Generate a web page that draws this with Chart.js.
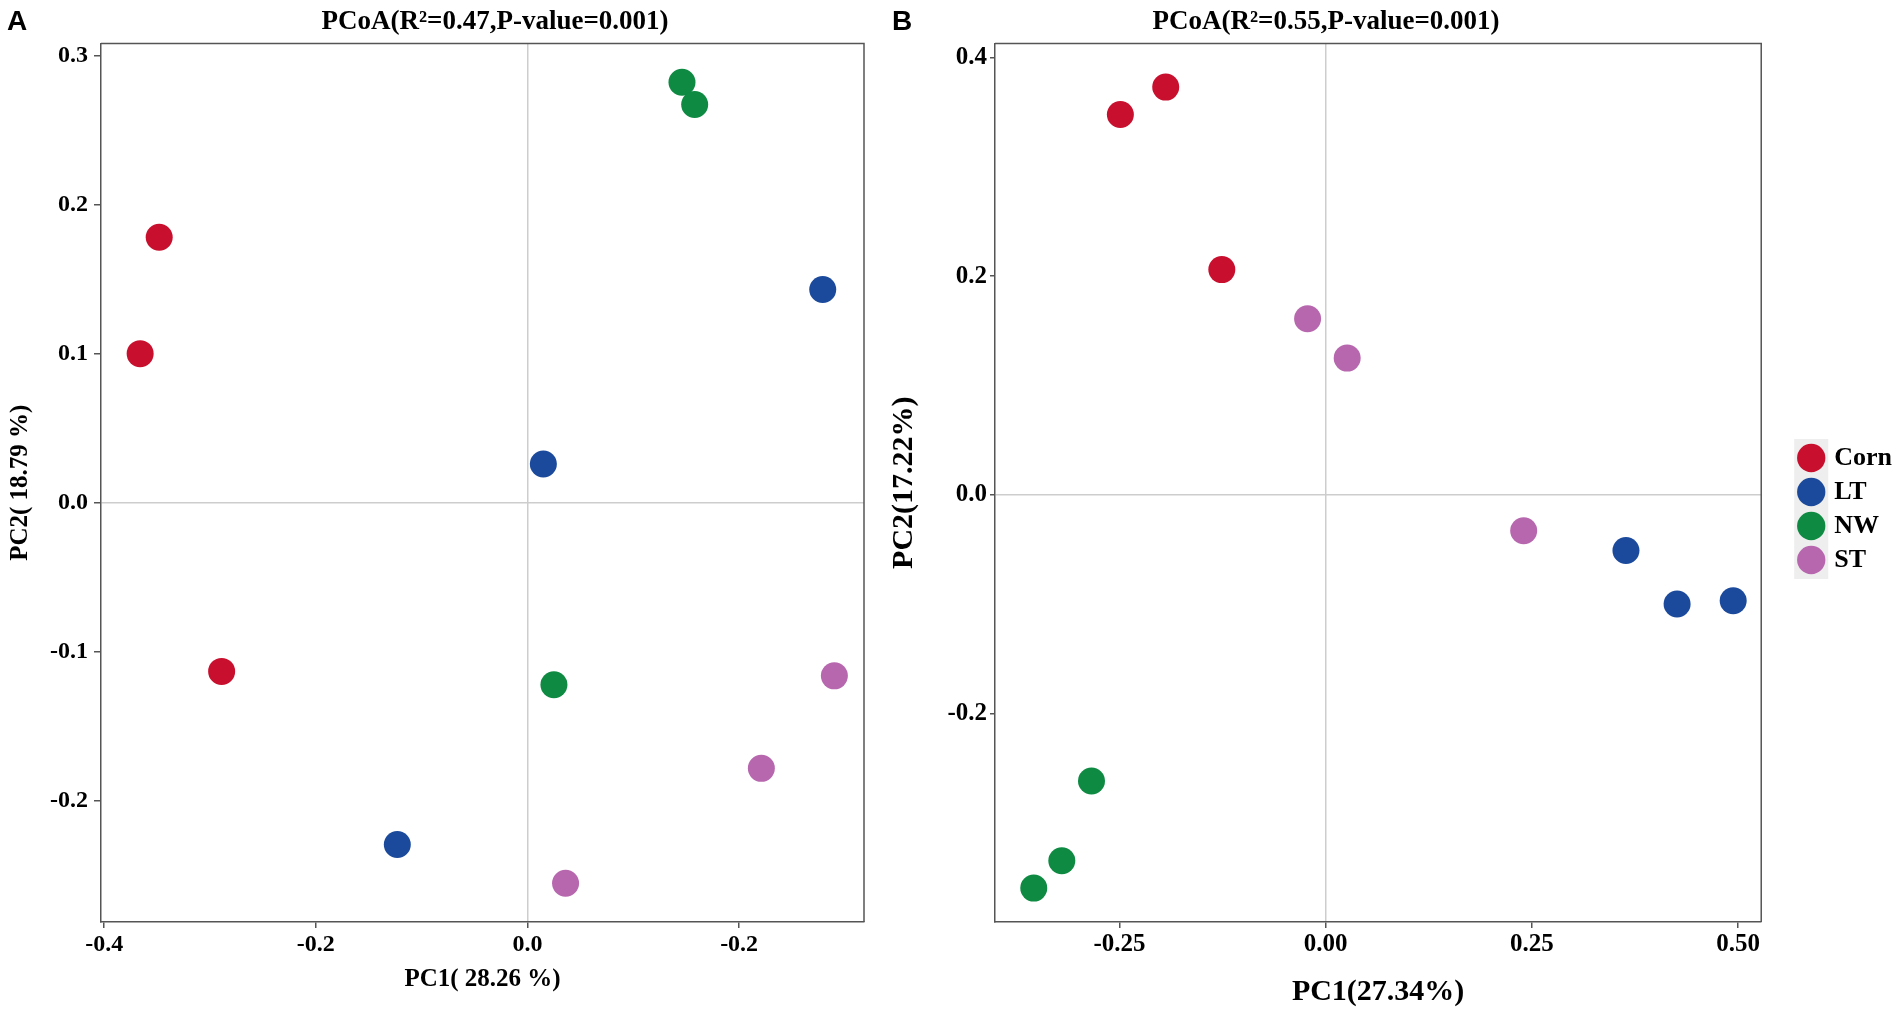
<!DOCTYPE html>
<html><head><meta charset="utf-8">
<script src="https://cdn.jsdelivr.net/npm/chart.js@4.4.1/dist/chart.umd.min.js"></script>
<style>
html,body{margin:0;padding:0;background:#fff;width:1902px;height:1018px;overflow:hidden;}
.wrap{position:absolute;top:0;height:1018px;}
#wa{left:0;width:990px;}
#wb{left:750px;width:1152px;}
.lab{position:absolute;top:5px;font:bold 28px "Liberation Sans",Arial,sans-serif;color:#000;z-index:5;}
</style></head><body>
<div class="wrap" id="wa"><canvas id="ca"></canvas></div>
<div class="wrap" id="wb"><canvas id="cb"></canvas></div>
<div class="lab" style="left:7px">A</div>
<div class="lab" style="left:892px">B</div>
<script>
// ---- data ----
const groups = ['Corn', 'LT', 'NW', 'ST'];
const groupColors = ['#C8102E', '#1B4A9C', '#0E8A42', '#B767AE'];

// Panel A
const A_Corn_PC1 = [-0.348, -0.366, -0.289];
const A_Corn_PC2 = [0.178, 0.100, -0.113];
const A_LT_PC1 = [0.279, 0.015, -0.123];
const A_LT_PC2 = [0.143, 0.026, -0.229];
const A_NW_PC1 = [0.146, 0.158, 0.025];
const A_NW_PC2 = [0.282, 0.267, -0.122];
const A_ST_PC1 = [0.290, 0.221, 0.036];
const A_ST_PC2 = [-0.116, -0.178, -0.255];
const A_xTicks = [-0.4, -0.2, 0.0, 0.2];
const A_xTickLabels = ['-0.4', '-0.2', '0.0', '-0.2'];
const A_yTicks = [-0.2, -0.1, 0.0, 0.1, 0.2, 0.3];
const A_yTickLabels = ['-0.2', '-0.1', '0.0', '0.1', '0.2', '0.3'];
const A_title = 'PCoA(R\u00B2=0.47,P-value=0.001)';
const A_xTitle = 'PC1( 28.26 %)';
const A_yTitle = 'PC2( 18.79 %)';

// Panel B
const B_Corn_PC1 = [-0.249, -0.194, -0.126];
const B_Corn_PC2 = [0.348, 0.373, 0.206];
const B_LT_PC1 = [0.364, 0.426, 0.494];
const B_LT_PC2 = [-0.051, -0.100, -0.097];
const B_NW_PC1 = [-0.284, -0.320, -0.354];
const B_NW_PC2 = [-0.262, -0.335, -0.360];
const B_ST_PC1 = [-0.022, 0.026, 0.240];
const B_ST_PC2 = [0.161, 0.125, -0.033];
const B_xTicks = [-0.25, 0.0, 0.25, 0.5];
const B_xTickLabels = ['-0.25', '0.00', '0.25', '0.50'];
const B_yTicks = [-0.2, 0.0, 0.2, 0.4];
const B_yTickLabels = ['-0.2', '0.0', '0.2', '0.4'];
const B_title = 'PCoA(R\u00B2=0.55,P-value=0.001)';
const B_xTitle = 'PC1(27.34%)';
const B_yTitle = 'PC2(17.22%)';

// ---- helpers ----
const SERIF = '"Liberation Serif","Times New Roman",serif';
function makeDatasets(xs, ys) {
  return groups.map((g, i) => ({
    label: g,
    data: xs[i].map((x, j) => ({x: x, y: ys[i][j]})),
    backgroundColor: groupColors[i],
    borderColor: groupColors[i],
    borderWidth: 0,
    pointRadius: 13.5,
    pointHoverRadius: 13.5,
    clip: false
  }));
}
const zeroGrid = c => (c.tick && Math.abs(c.tick.value) < 1e-9) ? '#CDCDCD' : 'rgba(0,0,0,0)';

function axis(o) {
  return {
    type: 'linear',
    position: o.position,
    min: o.min, max: o.max,
    afterBuildTicks: s => { s.ticks = o.ticks.map(v => ({value: v})); },
    afterFit: s => { if (o.position === 'bottom') s.height = o.size; else s.width = o.size; },
    ticks: {
      callback: (v, i) => o.labels[i],
      font: {family: SERIF, weight: 'bold', size: o.tickSize},
      color: '#000', padding: o.tickPad, maxRotation: 0, autoSkip: false
    },
    grid: {color: zeroGrid, lineWidth: 1.5, drawTicks: true, tickLength: o.tickLen, tickColor: '#555', tickWidth: 1.5},
    border: {display: true, color: '#555', width: 1.5},
    title: {display: true, text: o.title, color: '#000',
      font: {family: SERIF, weight: 'bold', size: o.titleSize},
      padding: o.titlePad}
  };
}
function spacer(w) {
  return {type: 'linear', position: 'right', display: true,
    grid: {display: false, drawTicks: false}, ticks: {display: false},
    border: {display: false}, afterFit: s => { s.width = w; }};
}
const framePlugin = {
  id: 'frame',
  afterDraw(chart) {
    const {ctx, chartArea: a} = chart;
    ctx.save();
    ctx.strokeStyle = '#555'; ctx.lineWidth = 1.5;
    ctx.beginPath();
    ctx.moveTo(a.left, a.top); ctx.lineTo(a.right, a.top); ctx.lineTo(a.right, a.bottom);
    ctx.stroke();
    ctx.restore();
  }
};
const legendBgPlugin = {
  id: 'legendBg',
  beforeDraw(chart) {
    const lg = chart.legend;
    if (!lg || !lg.legendHitBoxes || !lg.legendHitBoxes.length) return;
    const hb = lg.legendHitBoxes;
    const bw = lg.options.labels.boxWidth;
    const cx = hb[0].left + bw / 2;
    const top = hb[0].top - 6;
    const bot = hb[hb.length - 1].top + hb[hb.length - 1].height + 6;
    const ctx = chart.ctx;
    ctx.save(); ctx.fillStyle = '#EEEEEE';
    ctx.fillRect(cx - 17, top, 34, bot - top);
    ctx.restore();
  }
};
function titleOpts(text) {
  return {display: true, text: text, color: '#000', fullSize: true,
    font: {family: SERIF, weight: 'bold', size: 27}, padding: {top: 6, bottom: 5}};
}

// ---- Panel A ----
new Chart(document.getElementById('ca'), {
  type: 'scatter',
  data: {datasets: makeDatasets(
    [A_Corn_PC1, A_LT_PC1, A_NW_PC1, A_ST_PC1],
    [A_Corn_PC2, A_LT_PC2, A_NW_PC2, A_ST_PC2])},
  options: {
    responsive: true, maintainAspectRatio: false, animation: false, events: [],
    layout: {padding: 0},
    plugins: {legend: {display: false}, tooltip: {enabled: false}, title: titleOpts(A_title)},
    scales: {
      x: axis({position: 'bottom', min: -0.403, max: 0.318, ticks: A_xTicks, labels: A_xTickLabels,
        size: 96, tickSize: 24, tickPad: 2, tickLen: 6, title: A_xTitle, titleSize: 25,
        titlePad: {top: 0, bottom: 23}}),
      y: axis({position: 'left', min: -0.281, max: 0.308, ticks: A_yTicks, labels: A_yTickLabels,
        size: 101, tickSize: 24, tickPad: 6, tickLen: 7, title: A_yTitle, titleSize: 25,
        titlePad: {top: 6, bottom: 0}}),
      yR: spacer(126)
    }
  },
  plugins: [framePlugin]
});

// ---- Panel B ----
new Chart(document.getElementById('cb'), {
  type: 'scatter',
  data: {datasets: makeDatasets(
    [B_Corn_PC1, B_LT_PC1, B_NW_PC1, B_ST_PC1],
    [B_Corn_PC2, B_LT_PC2, B_NW_PC2, B_ST_PC2])},
  options: {
    responsive: true, maintainAspectRatio: false, animation: false, events: [],
    layout: {padding: 0},
    plugins: {
      tooltip: {enabled: false},
      title: titleOpts(B_title),
      legend: {display: true, position: 'right', align: 'center',
        labels: {usePointStyle: true, pointStyle: 'circle', boxWidth: 20, boxHeight: 20, padding: 8,
          color: '#000', font: {family: SERIF, weight: 'bold', size: 26}}}
    },
    scales: {
      x: axis({position: 'bottom', min: -0.401, max: 0.528, ticks: B_xTicks, labels: B_xTickLabels,
        size: 96, tickSize: 25, tickPad: 2, tickLen: 6, title: B_xTitle, titleSize: 30,
        titlePad: {top: 0, bottom: 8}}),
      y: axis({position: 'left', min: -0.391, max: 0.413, ticks: B_yTicks, labels: B_yTickLabels,
        size: 245, tickSize: 25, tickPad: 3, tickLen: 5, title: B_yTitle, titleSize: 30,
        titlePad: {top: 136, bottom: 0}}),
      yR: spacer(32)
    }
  },
  plugins: [framePlugin, legendBgPlugin]
});
</script>
</body></html>
